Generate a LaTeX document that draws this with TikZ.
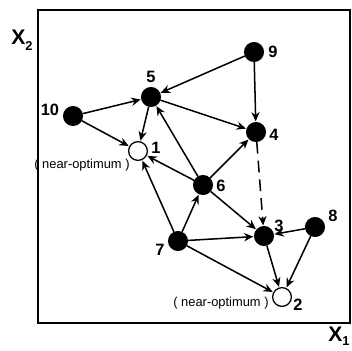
\documentclass[tikz,border=0pt]{standalone}
\usepackage{fontspec}
\setmainfont{Liberation Sans}
\usetikzlibrary{arrows.meta}

\tikzset{
  pt/.style={circle, draw, line width=1.1pt, fill=black, minimum size=16pt, inner sep=0pt},
  opt/.style={pt, fill=white},
  num/.style={font=\bfseries\fontsize{14}{14}\selectfont, inner sep=0pt},
  note/.style={font=\fontsize{11}{11}\selectfont, inner sep=0pt},
  axis/.style={font=\bfseries\fontsize{18}{18}\selectfont, inner sep=0pt},
  edge/.style={line width=1.3pt, -{Stealth[length=8pt, width=7pt]}, shorten >=0.5pt}
}

\begin{document}
\begin{tikzpicture}[x=0.03cm, y=-0.03cm]
  % 页面范围 (像素坐标)
  \useasboundingbox (0,0) rectangle (352,350);

  % 外框
  \draw[line width=1.8pt] (38,10) rectangle (350,323);
  \node[axis] (ax2) at (22,40) {X\raisebox{-0.5ex}{\fontsize{11}{11}\selectfont 2}};
  \node[axis] (ax1) at (339,336) {X\raisebox{-0.4ex}{\fontsize{11}{11}\selectfont 1}};

  % 点
  \node[pt]  (n9)  at (254,52)  {};
  \node[pt]  (n5)  at (151,97)  {};
  \node[pt]  (n10) at (73,116)  {};
  \node[pt]  (n4)  at (256,132) {};
  \node[opt] (n1)  at (138,151) {};
  \node[pt]  (n6)  at (203,185) {};
  \node[pt]  (n7)  at (178,241) {};
  \node[pt]  (n3)  at (264,236) {};
  \node[pt]  (n8)  at (315,227) {};
  \node[opt] (n2)  at (282,297) {};

  % 编号
  \node[num] (l9)  at (273,52)  {9};
  \node[num] (l5)  at (151,77)  {5};
  \node[num] (l10) at (50,110)  {10};
  \node[num] (l4)  at (274,135) {4};
  \node[num] (l1)  at (156,148) {1};
  \node[num] (l6)  at (221,186) {6};
  \node[num] (l7)  at (160,250) {7};
  \node[num] (l3)  at (279,226) {3};
  \node[num] (l8)  at (333,216) {8};
  \node[num] (l2)  at (298,305) {2};

  \node[note] (o1) at (82,165)  {( near-optimum )};
  \node[note] (o2) at (221,303) {( near-optimum )};

  % 箭头
  \draw[edge] (n10) -- (n5);
  \draw[edge] (n10) -- (n1);
  \draw[edge] (n9) -- (n5);
  \draw[edge] (n9) -- (n4);
  \draw[edge] (n5) -- (n1);
  \draw[edge] (n5) -- (n4);
  \draw[edge] (n6) -- (n5);
  \draw[edge] (n6) -- (n1);
  \draw[edge] (n6) -- (n4);
  \draw[edge] (n6) -- (n3);
  \draw[edge] (n7) -- (n1);
  \draw[edge] (n7) -- (n6);
  \draw[edge] (n7) -- (n3);
  \draw[edge] (n7) -- (n2);
  \draw[edge, dash pattern=on 10pt off 6pt] (n4) -- (n3);
  \draw[edge] (n8) -- (n3);
  \draw[edge] (n8) -- (n2);
  \draw[edge] (n3) -- (n2);
\end{tikzpicture}
\end{document}
